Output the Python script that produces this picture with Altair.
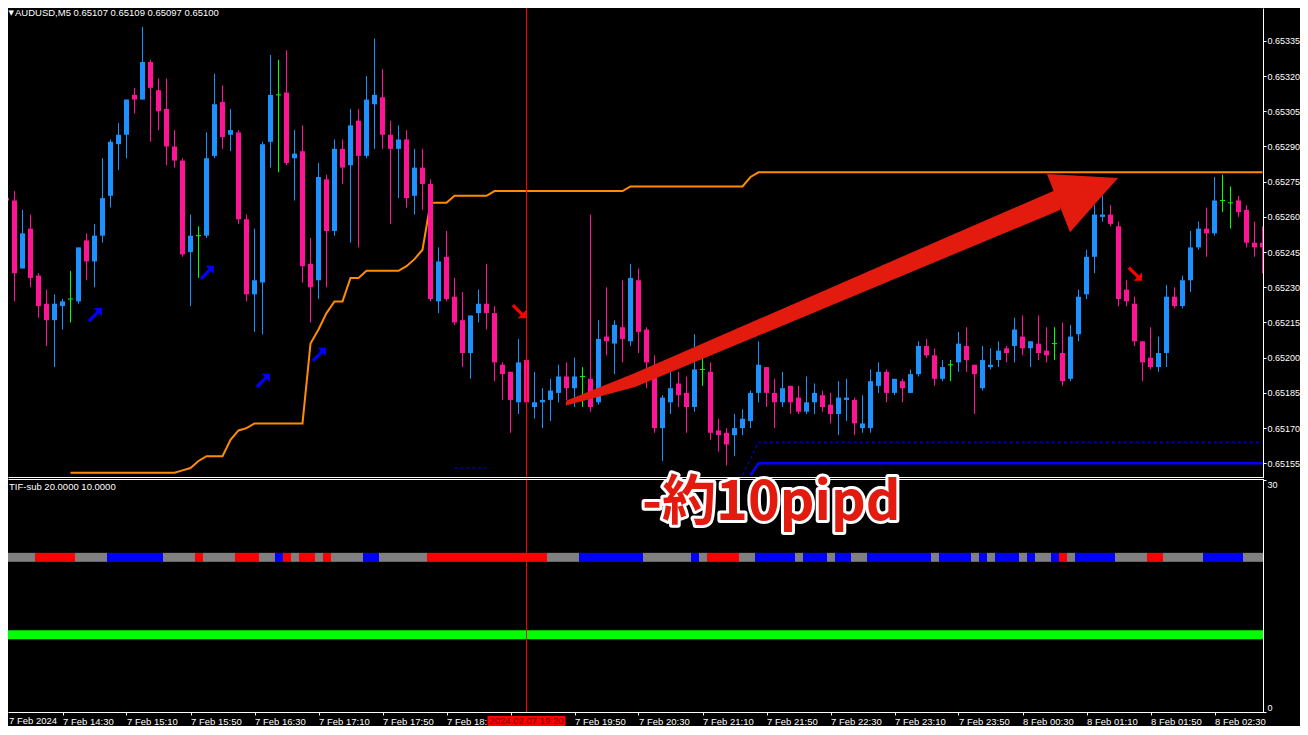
import json
import altair as alt
import pandas as pd

# ---------------- values ----------------
HEADER = "AUDUSD,M5  0.65107 0.65109 0.65097 0.65100"
SUB_HEADER = "TIF-sub 20.0000 10.0000"
NOTE_TEXT = "-約10pipd"
MARKER_TEXT = "2024.02.07 19:20"
MARKER_BAR = 66

# time-scale labels every 8 bars as they appear (the 18:30 one is cut and the 19:10 one is
# hidden by the red time box of the vertical line)
TIME_LABELS = ["7 Feb 2024", "7 Feb 14:30", "7 Feb 15:10", "7 Feb 15:50", "7 Feb 16:30",
               "7 Feb 17:10", "7 Feb 17:50", "7 Feb 18:", "", "7 Feb 19:50",
               "7 Feb 20:30", "7 Feb 21:10", "7 Feb 21:50", "7 Feb 22:30", "7 Feb 23:10",
               "7 Feb 23:50", "8 Feb 00:30", "8 Feb 01:10", "8 Feb 01:50", "8 Feb 02:30"]
LABEL_EVERY = 8
PRICE_TICKS = [0.65155, 0.65170, 0.65185, 0.65200, 0.65215, 0.65230, 0.65245,
               0.65260, 0.65275, 0.65290, 0.65305, 0.65320, 0.65335, 0.65350]
SUB_TICKS = [0, 30]
STRIP_LEVEL = 20.0
LINE_LEVEL = 10.0

OPEN = [0.65282, 0.65268, 0.65267, 0.65238, 0.65255, 0.65235, 0.65223, 0.65216, 0.65222, 0.65225,
        0.65224, 0.65250, 0.65241, 0.65252, 0.65269, 0.65291, 0.65295, 0.65312, 0.65310, 0.65326,
        0.65314, 0.65306, 0.65290, 0.65284, 0.65245, 0.65252, 0.65252, 0.65286, 0.65309, 0.65295,
        0.65296, 0.65259, 0.65227, 0.65232, 0.65292, 0.65312, 0.65313, 0.65285, 0.65288, 0.65240,
        0.65233, 0.65276, 0.65254, 0.65289, 0.65282, 0.65301, 0.65286, 0.65308, 0.65311, 0.65295,
        0.65289, 0.65293, 0.65269, 0.65281, 0.65274, 0.65224, 0.65243, 0.65226, 0.65216, 0.65202,
        0.65219, 0.65223, 0.65219, 0.65197, 0.65194, 0.65181, 0.65199, 0.65179, 0.65181, 0.65182,
        0.65185, 0.65192, 0.65187, 0.65192, 0.65191, 0.65181, 0.65209, 0.65206, 0.65213, 0.65207,
        0.65233, 0.65212, 0.65195, 0.65170, 0.65181, 0.65189, 0.65185, 0.65179, 0.65195, 0.65194,
        0.65169, 0.65168, 0.65167, 0.65170, 0.65173, 0.65185, 0.65196, 0.65185, 0.65181, 0.65188,
        0.65183, 0.65177, 0.65181, 0.65184, 0.65180, 0.65176, 0.65182, 0.65182, 0.65170, 0.65170,
        0.65188, 0.65194, 0.65185, 0.65190, 0.65185, 0.65193, 0.65205, 0.65201, 0.65191, 0.65197,
        0.65198, 0.65205, 0.65197, 0.65187, 0.65196, 0.65199, 0.65204, 0.65205, 0.65209, 0.65204,
        0.65206, 0.65203, 0.65206, 0.65202, 0.65191, 0.65210, 0.65227, 0.65243, 0.65260, 0.65261,
        0.65256, 0.65229, 0.65223, 0.65207, 0.65200, 0.65196, 0.65202, 0.65226, 0.65222, 0.65233,
        0.65247, 0.65255, 0.65253, 0.65267, 0.65266, 0.65267, 0.65263, 0.65249, 0.65249]
HIGH = [0.65290, 0.65283, 0.65271, 0.65263, 0.65261, 0.65236, 0.65229, 0.65227, 0.65225, 0.65237,
        0.65247, 0.65253, 0.65257, 0.65285, 0.65293, 0.65300, 0.65310, 0.65315, 0.65341, 0.65327,
        0.65319, 0.65319, 0.65297, 0.65285, 0.65261, 0.65256, 0.65296, 0.65321, 0.65316, 0.65306,
        0.65297, 0.65261, 0.65255, 0.65292, 0.65329, 0.65327, 0.65331, 0.65297, 0.65299, 0.65251,
        0.65283, 0.65278, 0.65293, 0.65293, 0.65306, 0.65306, 0.65320, 0.65336, 0.65323, 0.65301,
        0.65299, 0.65297, 0.65289, 0.65289, 0.65276, 0.65247, 0.65254, 0.65234, 0.65228, 0.65218,
        0.65229, 0.65240, 0.65222, 0.65198, 0.65194, 0.65208, 0.65201, 0.65194, 0.65187, 0.65191,
        0.65197, 0.65198, 0.65200, 0.65196, 0.65261, 0.65216, 0.65230, 0.65216, 0.65233, 0.65240,
        0.65238, 0.65213, 0.65201, 0.65184, 0.65195, 0.65194, 0.65192, 0.65210, 0.65202, 0.65198,
        0.65174, 0.65170, 0.65176, 0.65178, 0.65186, 0.65207, 0.65196, 0.65191, 0.65194, 0.65188,
        0.65188, 0.65192, 0.65189, 0.65186, 0.65185, 0.65190, 0.65191, 0.65183, 0.65184, 0.65195,
        0.65198, 0.65195, 0.65191, 0.65191, 0.65195, 0.65207, 0.65208, 0.65204, 0.65199, 0.65199,
        0.65211, 0.65213, 0.65197, 0.65205, 0.65204, 0.65207, 0.65205, 0.65217, 0.65218, 0.65207,
        0.65218, 0.65213, 0.65213, 0.65215, 0.65214, 0.65229, 0.65246, 0.65265, 0.65269, 0.65265,
        0.65258, 0.65233, 0.65226, 0.65207, 0.65213, 0.65209, 0.65231, 0.65230, 0.65235, 0.65254,
        0.65258, 0.65264, 0.65277, 0.65278, 0.65273, 0.65269, 0.65265, 0.65258, 0.65256]
LOW = [0.65267, 0.65262, 0.65224, 0.65238, 0.65230, 0.65217, 0.65205, 0.65196, 0.65212, 0.65215,
       0.65223, 0.65233, 0.65230, 0.65249, 0.65264, 0.65280, 0.65285, 0.65304, 0.65310, 0.65292,
       0.65297, 0.65282, 0.65281, 0.65243, 0.65222, 0.65234, 0.65251, 0.65285, 0.65289, 0.65288,
       0.65257, 0.65224, 0.65211, 0.65210, 0.65281, 0.65279, 0.65282, 0.65267, 0.65232, 0.65215,
       0.65225, 0.65230, 0.65252, 0.65274, 0.65249, 0.65247, 0.65285, 0.65289, 0.65289, 0.65257,
       0.65268, 0.65264, 0.65261, 0.65263, 0.65224, 0.65219, 0.65224, 0.65214, 0.65196, 0.65191,
       0.65215, 0.65212, 0.65190, 0.65182, 0.65168, 0.65176, 0.65180, 0.65174, 0.65170, 0.65173,
       0.65181, 0.65182, 0.65179, 0.65179, 0.65177, 0.65180, 0.65201, 0.65193, 0.65198, 0.65205,
       0.65202, 0.65187, 0.65168, 0.65156, 0.65176, 0.65179, 0.65168, 0.65177, 0.65188, 0.65165,
       0.65160, 0.65154, 0.65158, 0.65167, 0.65170, 0.65181, 0.65179, 0.65170, 0.65179, 0.65176,
       0.65176, 0.65176, 0.65176, 0.65177, 0.65172, 0.65167, 0.65173, 0.65167, 0.65168, 0.65168,
       0.65185, 0.65181, 0.65184, 0.65181, 0.65185, 0.65192, 0.65200, 0.65188, 0.65190, 0.65190,
       0.65194, 0.65194, 0.65176, 0.65186, 0.65195, 0.65196, 0.65198, 0.65198, 0.65201, 0.65196,
       0.65199, 0.65198, 0.65199, 0.65188, 0.65190, 0.65207, 0.65225, 0.65236, 0.65258, 0.65256,
       0.65222, 0.65222, 0.65205, 0.65190, 0.65195, 0.65194, 0.65196, 0.65221, 0.65221, 0.65228,
       0.65246, 0.65243, 0.65252, 0.65262, 0.65255, 0.65260, 0.65247, 0.65243, 0.65236]
CLOSE = [0.65269, 0.65267, 0.65236, 0.65253, 0.65234, 0.65222, 0.65216, 0.65223, 0.65224, 0.65225,
         0.65247, 0.65241, 0.65252, 0.65268, 0.65292, 0.65295, 0.65310, 0.65310, 0.65326, 0.65315,
         0.65305, 0.65290, 0.65284, 0.65244, 0.65252, 0.65252, 0.65285, 0.65308, 0.65294, 0.65297,
         0.65259, 0.65227, 0.65233, 0.65291, 0.65312, 0.65312, 0.65283, 0.65287, 0.65239, 0.65230,
         0.65277, 0.65254, 0.65289, 0.65281, 0.65299, 0.65286, 0.65310, 0.65312, 0.65295, 0.65289,
         0.65293, 0.65268, 0.65281, 0.65274, 0.65225, 0.65241, 0.65225, 0.65215, 0.65202, 0.65218,
         0.65223, 0.65219, 0.65198, 0.65193, 0.65182, 0.65198, 0.65181, 0.65181, 0.65182, 0.65186,
         0.65192, 0.65187, 0.65192, 0.65192, 0.65179, 0.65208, 0.65207, 0.65214, 0.65208, 0.65234,
         0.65211, 0.65198, 0.65170, 0.65183, 0.65187, 0.65184, 0.65179, 0.65195, 0.65195, 0.65168,
         0.65167, 0.65163, 0.65170, 0.65174, 0.65185, 0.65197, 0.65185, 0.65181, 0.65187, 0.65181,
         0.65177, 0.65181, 0.65185, 0.65179, 0.65176, 0.65183, 0.65183, 0.65172, 0.65172, 0.65190,
         0.65194, 0.65185, 0.65191, 0.65187, 0.65193, 0.65205, 0.65201, 0.65191, 0.65196, 0.65197,
         0.65206, 0.65199, 0.65193, 0.65199, 0.65197, 0.65203, 0.65202, 0.65212, 0.65204, 0.65207,
         0.65202, 0.65201, 0.65206, 0.65190, 0.65209, 0.65226, 0.65243, 0.65261, 0.65261, 0.65257,
         0.65225, 0.65224, 0.65207, 0.65198, 0.65196, 0.65202, 0.65226, 0.65222, 0.65233, 0.65247,
         0.65255, 0.65253, 0.65267, 0.65267, 0.65266, 0.65262, 0.65249, 0.65247, 0.65247]

ORANGE_LINE = ([None] * 9 + [0.65151] * 14 + [0.65152, 0.65153, 0.65156] + [0.65158] * 3 +
               [0.65165, 0.65169, 0.65170] + [0.65172] * 7 + [0.65206, 0.65212, 0.65219] +
               [0.65224] * 2 + [0.65234] * 2 + [0.65237] * 5 + [0.65239, 0.65242, 0.65246] +
               [0.65266] * 3 + [0.65269] * 5 + [0.65271] * 17 + [0.65273] * 15 + [0.65277] +
               [0.65279] * 64)
BLUE_SOLID = [None] * 94 + [0.65150] + [0.65155] * 64
BLUE_DASH = [None] * 57 + [0.65153] * 5 + [None] * 31 + [0.65150, 0.65157] + [0.65164] * 64

UP_ARROW_BARS = [12, 26, 33, 40]
UP_ARROW_PRICES = [0.65218, 0.65236, 0.65190, 0.65201]
DOWN_ARROW_BARS = [65, 142]
DOWN_ARROW_PRICES = [0.65220, 0.65236]

# state strip of the TIF-sub window: (state, number of bars)
STRIP_RUNS = [("n", 5), ("r", 5), ("n", 4), ("b", 7), ("n", 4), ("r", 1), ("n", 4), ("r", 3),
              ("n", 2), ("b", 1), ("r", 1), ("n", 1), ("r", 2), ("n", 1), ("r", 1), ("n", 4),
              ("b", 2), ("n", 6), ("r", 15), ("n", 4), ("b", 8), ("n", 6), ("b", 1), ("n", 1),
              ("r", 4), ("n", 2), ("b", 5), ("n", 1), ("b", 3), ("n", 1), ("b", 2), ("n", 2),
              ("b", 8), ("n", 1), ("b", 4), ("n", 1), ("b", 1), ("n", 1), ("b", 3), ("n", 1),
              ("b", 1), ("n", 2), ("b", 1), ("r", 1), ("n", 1), ("b", 5), ("n", 4), ("r", 2),
              ("n", 5), ("b", 5), ("n", 3)]

# hand-drawn annotation arrow (bar index / price)
SHAFT_BARS = [70.94, 79.56, 118.3, 132.7]
SHAFT_TOP = [0.651817, 0.651935, 0.652510, 0.652723]
SHAFT_BOTTOM = [0.651796, 0.651875, 0.652425, 0.652629]
HEAD_BARS = [131.06, 133.94, 139.94]
HEAD_TOP = [0.652783, 0.652777, 0.652766]
HEAD_BOTTOM = [0.652783, 0.652535, 0.652766]
NOTE_BAR, NOTE_LEVEL = 96.6, 24.8

# ---------------- style / layout ----------------
FONT = "Liberation Sans"
BULL, BEAR, DOJI = "#1E90FF", "#FF1493", "#00FF00"
ORANGE_C, BLUE_C, RED_C, GRAY_C = "#FF8C00", "#0000FF", "#FF0000", "#808080"
ARROW_C = "#E31A0E"
W = 1255
H_MAIN = 469           # price window (plot px)
SUB_TOP = H_MAIN + 3   # indicator window top
HT = 704               # indicator window bottom = total plot height
X_LO = 1.1875
X_HI = X_LO + W / 8.0
P_LO, P_HI = 0.6514916, 0.6534902

XS = alt.Scale(domain=[X_LO, X_HI], nice=False, zero=False)
YS = alt.Scale(domain=[P_LO, P_HI], range=[H_MAIN, 0], nice=False, zero=False)
YSUB = alt.Scale(domain=[0, 30], range=[HT, SUB_TOP], nice=False, zero=False)

NE_PATH = "M -0.1 -1 L 1 -1 L 1 0.1 L 0.6 -0.3 L -0.6 0.9 L -0.9 0.6 L 0.3 -0.6 Z"
SE_PATH = "M -0.1 1 L 1 1 L 1 -0.1 L 0.6 0.3 L -0.6 -0.9 L -0.9 -0.6 L 0.3 0.6 Z"

TIME_AXIS = alt.Axis(values=list(range(LABEL_EVERY, LABEL_EVERY * len(TIME_LABELS), LABEL_EVERY)),
                     labelExpr=json.dumps(TIME_LABELS) + "[round(datum.value / %d)]" % LABEL_EVERY,
                     orient="bottom", title=None, grid=False, domain=False, labelAlign="left",
                     labelBaseline="top", labelColor="white", labelFont=FONT, labelFontSize=9.5,
                     labelFlush=False, labelOverlap=False, tickColor="white", tickSize=3,
                     labelPadding=1)
PRICE_AXIS = alt.Axis(orient="right", values=PRICE_TICKS, format=".5f", title=None, grid=False,
                      domain=False, labelColor="white", labelFont=FONT, labelFontSize=9,
                      tickColor="white", tickSize=3, labelPadding=1, labelOverlap=False)
SUB_AXIS = alt.Axis(orient="right", values=SUB_TICKS, title=None, grid=False, domain=False,
                    labelColor="white", labelFont=FONT, labelFontSize=9, labelFlush=True,
                    tickColor="white", tickSize=3, labelPadding=1)


def xq(field):
    return alt.X(field, type="quantitative", scale=XS, axis=TIME_AXIS)


def yq(field, axis=None):
    return alt.Y(field, type="quantitative", scale=YS, axis=axis)


def ysub(field, axis=None):
    return alt.Y(field, type="quantitative", scale=YSUB, axis=axis)


ONE = pd.DataFrame({"k": [0]})


def hline(yv, x0, x1):
    return alt.Chart(ONE).mark_rule(color="white", strokeWidth=1).encode(
        x=alt.value(x0), x2=alt.value(x1), y=alt.value(yv))


def vline(xv, y0, y1):
    return alt.Chart(ONE).mark_rule(color="white", strokeWidth=1).encode(
        x=alt.value(xv), y=alt.value(y0), y2=alt.value(y1))


# ---------------- price window ----------------
n = len(OPEN)
candles = pd.DataFrame({"i": list(range(n)), "open": OPEN, "high": HIGH, "low": LOW, "close": CLOSE})
candles["col"] = [BULL if c > o else (BEAR if c < o else DOJI) for o, c in zip(OPEN, CLOSE)]
candles["doji"] = [o == c for o, c in zip(OPEN, CLOSE)]
candles["bx0"] = candles["i"] - 0.3125
candles["bx1"] = candles["i"] + 0.3125

wicks = alt.Chart(candles).mark_rule(strokeWidth=1, clip=True).encode(
    x=xq("i"), y=yq("low", PRICE_AXIS), y2="high:Q", color=alt.Color("col:N", scale=None))
bodies = alt.Chart(candles).transform_filter("!datum.doji").mark_rect(clip=True).encode(
    x=xq("bx0"), x2="bx1:Q", y=yq("open"), y2="close:Q", color=alt.Color("col:N", scale=None))
dojis = alt.Chart(candles).transform_filter("datum.doji").mark_rule(strokeWidth=1, clip=True).encode(
    x=xq("bx0"), x2="bx1:Q", y=yq("close"), color=alt.Color("col:N", scale=None))

orange_df = pd.DataFrame([{"i": i, "v": v} for i, v in enumerate(ORANGE_LINE) if v is not None])
orange = alt.Chart(orange_df).mark_line(color=ORANGE_C, strokeWidth=2, clip=True).encode(
    x=xq("i"), y=yq("v"))

solid_df = pd.DataFrame([{"i": i, "v": v} for i, v in enumerate(BLUE_SOLID) if v is not None])
blue_solid = alt.Chart(solid_df).mark_line(color=BLUE_C, strokeWidth=2.5, clip=True).encode(
    x=xq("i"), y=yq("v"))

dash_rows, seg, prev = [], 0, None
for i, v in enumerate(BLUE_DASH):
    if v is None:
        prev = None
        continue
    if prev is None:
        seg += 1
    dash_rows.append({"i": i, "v": v, "seg": seg})
    prev = v
blue_dash = alt.Chart(pd.DataFrame(dash_rows)).mark_line(
    color=BLUE_C, strokeWidth=1, strokeDash=[3, 3], clip=True).encode(
    x=xq("i"), y=yq("v"), detail="seg:N")

up_arrows = alt.Chart(pd.DataFrame({"i": UP_ARROW_BARS, "p": UP_ARROW_PRICES})).mark_point(
    shape=NE_PATH, size=225, filled=True, color=BLUE_C, opacity=1, strokeWidth=0).encode(
    x=xq("i"), y=yq("p"))
down_arrows = alt.Chart(pd.DataFrame({"i": DOWN_ARROW_BARS, "p": DOWN_ARROW_PRICES})).mark_point(
    shape=SE_PATH, size=225, filled=True, color=RED_C, opacity=1, strokeWidth=0).encode(
    x=xq("i"), y=yq("p"))

shaft = alt.Chart(pd.DataFrame({"i": SHAFT_BARS, "t": SHAFT_TOP, "b": SHAFT_BOTTOM})).mark_area(
    color=ARROW_C, opacity=1, clip=True).encode(x=xq("i"), y=yq("t"), y2="b:Q")
head = alt.Chart(pd.DataFrame({"i": HEAD_BARS, "t": HEAD_TOP, "b": HEAD_BOTTOM})).mark_area(
    color=ARROW_C, opacity=1, clip=True).encode(x=xq("i"), y=yq("t"), y2="b:Q")

header_tri = alt.Chart(ONE).mark_text(text="▼", font="DejaVu Sans", fontSize=7, color="white",
                                      align="left", baseline="middle").encode(
    x=alt.value(0.5), y=alt.value(5))
header = alt.Chart(pd.DataFrame({"t": [HEADER]})).mark_text(
    font=FONT, fontSize=9.5, color="white", align="left", baseline="middle").encode(
    x=alt.value(7), y=alt.value(5), text="t:N")

# ---------------- TIF-sub window ----------------
states = [s for s, k in STRIP_RUNS for _ in range(k)]
strip_df = pd.DataFrame({"i": list(range(len(states))), "state": states})
strip_df["col"] = strip_df["state"].map({"n": GRAY_C, "r": RED_C, "b": BLUE_C})
strip_df["x0"] = strip_df["i"] - 0.4375
strip_df["x1"] = strip_df["i"] + 0.5625
half = 4.5 * 30 / (HT - SUB_TOP)
strip_df["lo"] = STRIP_LEVEL - half
strip_df["hi"] = STRIP_LEVEL + half

strip = alt.Chart(strip_df).mark_rect(clip=True).encode(
    x=xq("x0"), x2="x1:Q", y=ysub("lo", SUB_AXIS), y2="hi:Q",
    color=alt.Color("col:N", scale=None))
green = alt.Chart(pd.DataFrame({"lv": [LINE_LEVEL]})).mark_rule(
    color=DOJI, strokeWidth=9, clip=True).encode(y=ysub("lv"))

marker_df = pd.DataFrame({"i": [MARKER_BAR]})
marker = alt.Chart(marker_df).mark_rule(color=RED_C, strokeWidth=1, clip=True).encode(x=xq("i"))

sub_label = alt.Chart(pd.DataFrame({"t": [SUB_HEADER]})).mark_text(
    font=FONT, fontSize=9.5, color="white", align="left", baseline="middle").encode(
    x=alt.value(1), y=alt.value(SUB_TOP + 7), text="t:N")
note_df = pd.DataFrame({"i": [NOTE_BAR], "v": [NOTE_LEVEL], "t": [NOTE_TEXT]})
note_outline = alt.Chart(note_df).mark_text(
    font="Noto Sans CJK JP", fontWeight="bold", fontSize=54, color="white",
    stroke="white", strokeWidth=6, strokeJoin="round",
    align="center", baseline="alphabetic").encode(x=xq("i"), y=ysub("v"), text="t:N")
note = alt.Chart(note_df).mark_text(
    font="Noto Sans CJK JP", fontWeight="bold", fontSize=54, color=ARROW_C,
    align="center", baseline="alphabetic").encode(x=xq("i"), y=ysub("v"), text="t:N")

box_df = pd.DataFrame({"x0": [MARKER_BAR - 4.875], "x1": [MARKER_BAR + 4.875],
                       "i": [MARKER_BAR], "t": [MARKER_TEXT]})
marker_box = alt.Chart(box_df).mark_rect(color=RED_C).encode(
    x=xq("x0"), x2="x1:Q", y=alt.value(HT + 4), y2=alt.value(HT + 14))
marker_txt = alt.Chart(box_df).mark_text(
    font=FONT, fontSize=9.5, color="#6a0000", align="center", baseline="middle").encode(
    x=xq("i"), y=alt.value(HT + 9), text="t:N")
first_label = alt.Chart(pd.DataFrame({"t": [TIME_LABELS[0]]})).mark_text(
    font=FONT, fontSize=9.5, color="white", align="left", baseline="top").encode(
    x=alt.value(1), y=alt.value(HT + 4), text="t:N")

chart = alt.layer(
    strip, green,
    orange, blue_solid, blue_dash, wicks, bodies, dojis, up_arrows, down_arrows,
    shaft, head, marker, header_tri, header, sub_label, first_label, marker_box, marker_txt,
    vline(W + 0.5, 0.5, H_MAIN + 1), hline(H_MAIN + 0.5, 0.5, W + 1),
    hline(SUB_TOP - 0.5, 0.5, W + 1), vline(W + 0.5, SUB_TOP - 1, HT + 1), hline(HT + 0.5, 0.5, W + 1),
    note_outline, note,
).resolve_scale(y="independent").properties(
    width=W, height=HT, background="#000000", padding=0
).configure_view(stroke=None)

chart.save("out.html", embed_options={"renderer": "svg", "actions": False})
